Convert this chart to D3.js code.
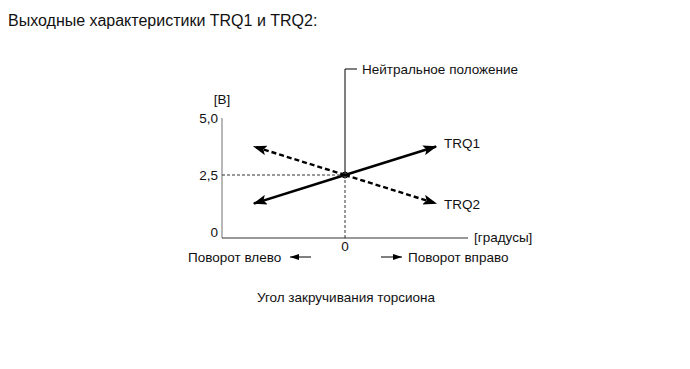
<!DOCTYPE html>
<html><head><meta charset="utf-8">
<script src="https://cdn.jsdelivr.net/npm/d3@7"></script>
<style>body{margin:0;background:#fff}svg{display:block}text{font-family:"Liberation Sans",Arial,sans-serif;fill:#111}</style>
</head><body><svg id="c" width="690" height="369"></svg>
<script>
const yTicks = [0, 2.5, 5];
const yTickLabels = ["0", "2,5", "5,0"];
const xTicks = [0];
const xTickLabels = ["0"];
const seriesNames = ["TRQ1", "TRQ2"];
const seriesX = [-1, 0, 1];
const trq1 = [1.25, 2.5, 3.75];
const trq2 = [3.75, 2.5, 1.25];

const svg = d3.select("#c");
const x = d3.scaleLinear().domain([-1.35, 1.35]).range([222, 468]);
const y = d3.scaleLinear().domain([0, 5]).range([232, 118]);
const axisY = 238;
const fs = 13.5;

const defs = svg.append("defs");
defs.append("marker").attr("id","arr").attr("viewBox","0 0 14 10")
  .attr("refX",13).attr("refY",5).attr("markerWidth",14).attr("markerHeight",10)
  .attr("markerUnits","userSpaceOnUse").attr("orient","auto")
  .append("path").attr("d","M0,0 L14,5 L0,10 L3,5 Z").attr("fill","#000");
defs.append("marker").attr("id","arr2").attr("viewBox","0 0 9 6")
  .attr("refX",9).attr("refY",3).attr("markerWidth",9).attr("markerHeight",6)
  .attr("markerUnits","userSpaceOnUse").attr("orient","auto")
  .append("path").attr("d","M0,0 L9,3 L0,6 Z").attr("fill","#000");

// title
svg.append("text").attr("x",8).attr("y",26).attr("font-size",16).text("Выходные характеристики TRQ1 и TRQ2:");

// axes
svg.append("line").attr("x1",x.range()[0]).attr("x2",x.range()[0]).attr("y1",118).attr("y2",axisY).attr("stroke","#888").attr("stroke-width",1.2);
svg.append("line").attr("x1",x.range()[0]).attr("x2",x.range()[1]).attr("y1",axisY).attr("y2",axisY).attr("stroke","#333").attr("stroke-width",1);

svg.selectAll(".yt").data(yTicks).enter().append("text")
  .attr("x",218).attr("y",d=>y(d)+5).attr("text-anchor","end").attr("font-size",fs)
  .text((d,i)=>yTickLabels[i]);
svg.append("text").attr("x",222).attr("y",104).attr("text-anchor","middle").attr("font-size",fs).text("[В]");
svg.selectAll(".xt").data(xTicks).enter().append("text")
  .attr("x",d=>x(d)).attr("y",251).attr("text-anchor","middle").attr("font-size",fs)
  .text((d,i)=>xTickLabels[i]);
svg.append("text").attr("x",474).attr("y",242).attr("font-size",fs).text("[градусы]");

// reference lines
svg.append("line").attr("x1",x.range()[0]).attr("x2",x(0)).attr("y1",y(2.5)).attr("y2",y(2.5))
  .attr("stroke","#000").attr("stroke-width",0.8).attr("stroke-dasharray","3,2");
svg.append("line").attr("x1",x(0)).attr("x2",x(0)).attr("y1",y(2.5)).attr("y2",axisY)
  .attr("stroke","#000").attr("stroke-width",0.8).attr("stroke-dasharray","3,2");
svg.append("line").attr("x1",x(0)).attr("x2",x(0)).attr("y1",69).attr("y2",y(2.5))
  .attr("stroke","#000").attr("stroke-width",1);
svg.append("line").attr("x1",x(0)).attr("x2",357).attr("y1",69).attr("y2",69)
  .attr("stroke","#000").attr("stroke-width",1);
svg.append("text").attr("x",362).attr("y",74).attr("font-size",fs).text("Нейтральное положение");

// series
const line = d3.line().x(d=>x(d[0])).y(d=>y(d[1]));
const s1 = seriesX.map((v,i)=>[v,trq1[i]]);
const s2 = seriesX.map((v,i)=>[v,trq2[i]]);
[[s1[1],s1[0]],[s1[1],s1[2]]].forEach(seg=>{
  svg.append("path").attr("d",line(seg)).attr("stroke","#000").attr("stroke-width",2.4).attr("fill","none").attr("marker-end","url(#arr)");
});
[[s2[1],s2[0]],[s2[1],s2[2]]].forEach(seg=>{
  svg.append("path").attr("d",line(seg)).attr("stroke","#000").attr("stroke-width",2.4).attr("fill","none").attr("stroke-dasharray","5,3").attr("marker-end","url(#arr)");
});
svg.append("circle").attr("cx",x(0)).attr("cy",y(2.5)).attr("r",3).attr("fill","none").attr("stroke","#000").attr("stroke-width",1);

svg.append("text").attr("x",x(1)+8).attr("y",y(trq1[2])+1).attr("font-size",fs).text(seriesNames[0]);
svg.append("text").attr("x",x(1)+8).attr("y",y(trq2[2])+5).attr("font-size",fs).text(seriesNames[1]);

// direction labels
svg.append("text").attr("x",188).attr("y",262).attr("font-size",fs).text("Поворот влево");
svg.append("line").attr("x1",311).attr("x2",290).attr("y1",257).attr("y2",257).attr("stroke","#000").attr("stroke-width",1).attr("marker-end","url(#arr2)");
svg.append("text").attr("x",408).attr("y",262).attr("font-size",fs).text("Поворот вправо");
svg.append("line").attr("x1",381).attr("x2",402).attr("y1",257).attr("y2",257).attr("stroke","#000").attr("stroke-width",1).attr("marker-end","url(#arr2)");

svg.append("text").attr("x",346).attr("y",302).attr("text-anchor","middle").attr("font-size",fs).text("Угол закручивания торсиона");
</script></body></html>
